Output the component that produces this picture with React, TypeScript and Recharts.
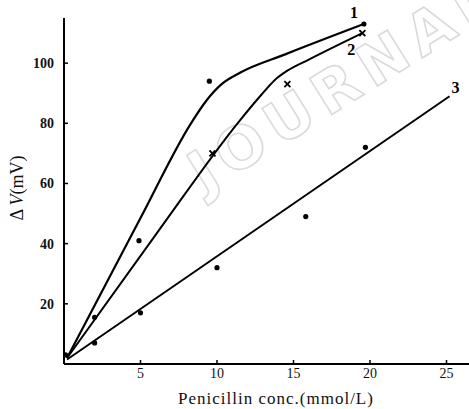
import React from 'react';
import { ComposedChart, Line, Scatter, XAxis, YAxis, Customized } from 'recharts';

// Smooth curves (fitted lines)
const curve1 = [
  { x: 0.2, y: 2 },
  { x: 5, y: 48.5 },
  { x: 8.3, y: 80 },
  { x: 9.3, y: 87.5 },
  { x: 10.3, y: 93 },
  { x: 11.5, y: 96.8 },
  { x: 14.5, y: 103 },
  { x: 19.6, y: 113 },
];
const curve2 = [
  { x: 0.2, y: 2 },
  { x: 6, y: 43 },
  { x: 11.5, y: 81 },
  { x: 12.9, y: 89.5 },
  { x: 13.8, y: 94.5 },
  { x: 14.6, y: 97.5 },
  { x: 16, y: 101.2 },
  { x: 19.5, y: 110 },
];
const curve3 = [
  { x: 0.2, y: 1.5 },
  { x: 25.2, y: 89 },
];

// Measured points
const points1 = [
  { x: 0.1, y: 3 },
  { x: 2, y: 15.5 },
  { x: 4.9, y: 41 },
  { x: 9.5, y: 94 },
  { x: 19.6, y: 113 },
];
const points2 = [
  { x: 9.7, y: 70 },
  { x: 14.6, y: 93 },
  { x: 19.5, y: 110 },
];
const points3 = [
  { x: 2, y: 7 },
  { x: 5, y: 17 },
  { x: 10, y: 32 },
  { x: 15.8, y: 49 },
  { x: 19.7, y: 72 },
];

const xTicks = [5, 10, 15, 20, 25];
const yTicks = [20, 40, 60, 80, 100];
const seriesNames = ['1', '2', '3'];

const SERIF = '"Liberation Serif", "DejaVu Serif", serif';

const XTick = (props: any) => {
  const { x, y, payload } = props;
  return (
    <g>
      <line x1={x} x2={x} y1={y} y2={y - 4} stroke="#000" strokeWidth={1.5} />
      <text x={x} y={y + 14} textAnchor="middle" fontFamily={SERIF} fontSize={14} fill="#111">
        {payload.value}
      </text>
    </g>
  );
};

const YTick = (props: any) => {
  const { x, y, payload } = props;
  return (
    <g>
      <line x1={x} x2={x + 4} y1={y} y2={y} stroke="#000" strokeWidth={1.5} />
      <text x={x - 10} y={y + 5} textAnchor="end" fontFamily={SERIF} fontSize={14} fontWeight="bold" fill="#111">
        {payload.value}
      </text>
    </g>
  );
};

const Dot = (props: any) => {
  const { cx, cy } = props;
  return <circle cx={cx} cy={cy} r={2.6} fill="#000" />;
};

const Cross = (props: any) => {
  const { cx, cy } = props;
  const s = 3;
  return (
    <g stroke="#000" strokeWidth={1.8}>
      <line x1={cx - s} y1={cy - s} x2={cx + s} y2={cy + s} />
      <line x1={cx - s} y1={cy + s} x2={cx + s} y2={cy - s} />
    </g>
  );
};

const makeEndLabel = (text: string, lastIndex: number, dx: number, dy: number) => (props: any) => {
  const { x, y, index } = props;
  if (index !== lastIndex) return null;
  return (
    <text x={x + dx} y={y + dy} textAnchor="middle" fontFamily={SERIF} fontSize={16} fontWeight="bold" fill="#000">
      {text}
    </text>
  );
};

const Watermark = () => (
  <text
    x={347}
    y={86}
    transform="rotate(-32 347 86)"
    textAnchor="middle"
    dominantBaseline="middle"
    fontFamily='"DejaVu Sans", sans-serif'
    fontWeight="bold"
    fontSize={58}
    letterSpacing={9}
    fill="#ffffff"
    stroke="#dadada"
    strokeWidth={1.6}
  >
    JOURNAL
  </text>
);

const YLabel = () => (
  <text
    x={19}
    y={188}
    transform="rotate(-90 19 188)"
    textAnchor="middle"
    dominantBaseline="middle"
    fontFamily={SERIF}
    fontSize={18}
    fill="#111"
  >
    Δ <tspan fontStyle="italic">V</tspan>(mV)
  </text>
);

const XLabel = () => (
  <text x={276} y={404} textAnchor="middle" fontFamily={SERIF} fontSize={17} letterSpacing={1} fill="#111">
    Penicillin conc.(mmol/L)
  </text>
);

export default function App() {
  return (
    <div style={{ position: 'absolute', left: 0, top: 0, background: '#fff' }}>
      <ComposedChart width={469} height={409} margin={{ top: 18, right: 0, bottom: 0, left: 0 }}>
        <Customized component={Watermark} />
        <XAxis
          type="number"
          dataKey="x"
          domain={[0, 26.47]}
          ticks={xTicks}
          tick={<XTick />}
          tickLine={false}
          tickSize={0}
          tickMargin={0}
          height={45}
          axisLine={{ stroke: '#000', strokeWidth: 2 }}
          allowDataOverflow
          label={<XLabel />}
        />
        <YAxis
          type="number"
          dataKey="y"
          domain={[0, 115]}
          ticks={yTicks}
          tick={<YTick />}
          tickLine={false}
          tickSize={0}
          tickMargin={0}
          width={64}
          axisLine={{ stroke: '#000', strokeWidth: 2 }}
          allowDataOverflow
          label={<YLabel />}
        />
        <Line
          data={curve1}
          dataKey="y"
          type="monotone"
          stroke="#000"
          strokeWidth={2.2}
          dot={false}
          activeDot={false}
          isAnimationActive={false}
          label={makeEndLabel(seriesNames[0], curve1.length - 1, -10, -6)}
        />
        <Line
          data={curve2}
          dataKey="y"
          type="monotone"
          stroke="#000"
          strokeWidth={2}
          dot={false}
          activeDot={false}
          isAnimationActive={false}
          label={makeEndLabel(seriesNames[1], curve2.length - 1, -11, 22)}
        />
        <Line
          data={curve3}
          dataKey="y"
          type="linear"
          stroke="#000"
          strokeWidth={2}
          dot={false}
          activeDot={false}
          isAnimationActive={false}
          label={makeEndLabel(seriesNames[2], curve3.length - 1, 6, -3)}
        />
        <Scatter data={points1} dataKey="y" shape={<Dot />} isAnimationActive={false} />
        <Scatter data={points2} dataKey="y" shape={<Cross />} isAnimationActive={false} />
        <Scatter data={points3} dataKey="y" shape={<Dot />} isAnimationActive={false} />
      </ComposedChart>
    </div>
  );
}
